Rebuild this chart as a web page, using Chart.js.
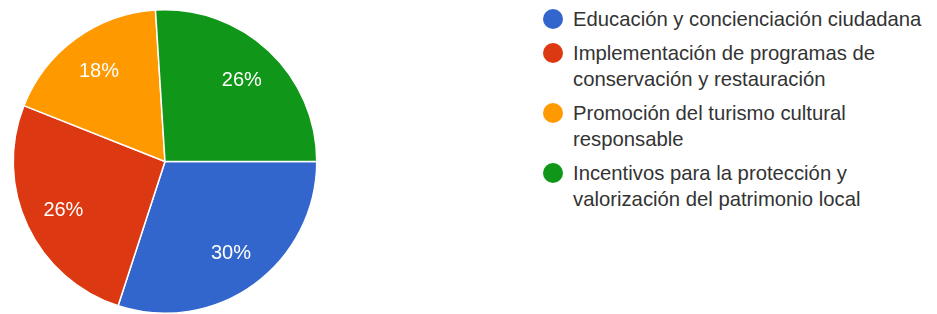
<!DOCTYPE html>
<html>
<head>
<meta charset="utf-8">
<script src="https://cdn.jsdelivr.net/npm/chart.js@4.4.0/dist/chart.umd.min.js"></script>
<style>
    body { margin: 0; background: #fff; font-family: "Liberation Sans", Arial, sans-serif; }
    #wrap { position: relative; width: 937px; height: 314px; }
    #pie_box { position: absolute; left: 0; top: 0; width: 330px; height: 314px; }
    #legend { position: absolute; left: 543px; top: 6px; width: 390px; }
    .item { display: flex; align-items: flex-start; margin-bottom: 8px; }
    .dot { width: 20px; height: 20px; border-radius: 50%; flex: none; margin-top: 3px; margin-right: 10px; }
    .txt { color: #333; font-size: 20.3px; line-height: 26px; width: 362px; }
</style>
</head>
<body>
<div id="wrap">
    <div id="pie_box"><canvas id="pie_chart"></canvas></div>
    <div id="legend"></div>
</div>
<script>
const categories = [
    'Educación y concienciación ciudadana',
    'Implementación de programas de conservación y restauración',
    'Promoción del turismo cultural responsable',
    'Incentivos para la protección y valorización del patrimonio local'
];
const percents = [30, 26, 18, 26];
const colors = ['#3366cc', '#dc3912', '#ff9900', '#109618'];

// percentage text inside each slice
const sliceLabels = {
    id: 'sliceLabels',
    afterDatasetsDraw(chart) {
        const ctx = chart.ctx;
        const meta = chart.getDatasetMeta(0);
        ctx.save();
        ctx.fillStyle = '#fff';
        ctx.font = '20px "Liberation Sans", Arial, sans-serif';
        ctx.textAlign = 'center';
        ctx.textBaseline = 'middle';
        meta.data.forEach((arc, i) => {
            const mid = (arc.startAngle + arc.endAngle) / 2;
            const r = arc.outerRadius * 0.74;
            ctx.fillText(percents[i] + '%', arc.x + Math.cos(mid) * r, arc.y + Math.sin(mid) * r + 1);
        });
        ctx.restore();
    }
};

new Chart(document.getElementById('pie_chart'), {
    type: 'pie',
    data: {
        labels: categories,
        datasets: [{
            data: percents,
            backgroundColor: colors,
            borderColor: '#fff',
            borderWidth: 1.5
        }]
    },
    options: {
        responsive: true,
        maintainAspectRatio: false,
        animation: false,
        rotation: 90,
        layout: { padding: { left: 12, right: 12, top: 9, bottom: 0 } },
        plugins: {
            legend: { display: false },
            tooltip: { enabled: false }
        }
    },
    plugins: [sliceLabels]
});

let html = '';
categories.forEach((c, i) => {
    html += '<div class="item"><span class="dot" style="background:' + colors[i] + '"></span><span class="txt">' + c + '</span></div>';
});
document.getElementById('legend').innerHTML = html;
</script>
</body>
</html>
